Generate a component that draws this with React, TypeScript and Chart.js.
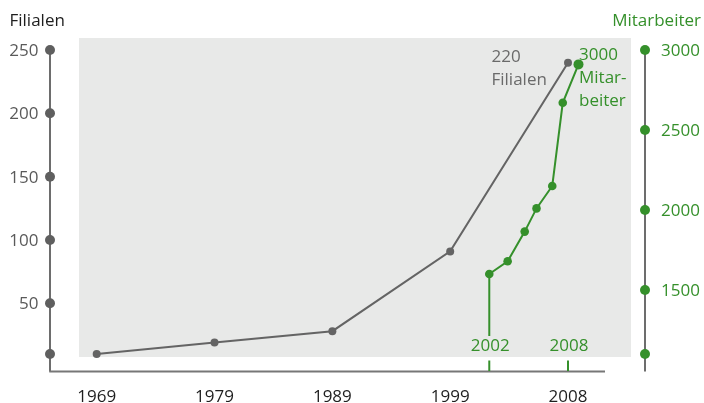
import React, { useEffect, useRef } from "react";
import { Chart, registerables } from "chart.js";

Chart.register(...registerables);

const categories = ["1969", "1979", "1989", "1999", "2008"];
const filialen = [10, 19, 28, 91, 240];
const mitarbeiterYears = [2002, 2003.4, 2004.7, 2005.6, 2006.8, 2007.6, 2008.8];
const mitarbeiter = [1600, 1680, 1865, 2010, 2150, 2670, 2910];
const leftTicks = [50, 100, 150, 200, 250];
const rightTicks = [1500, 2000, 2500, 3000];
const markYears = [2002, 2008];

const GREEN = "#35902b";
const GRAY = "#646464";
const FONT = '"Open Sans", "DejaVu Sans", sans-serif';
const FS = 17;

// layout constants (pixels)
const AREA_LEFT = 96.7;
const AREA_RIGHT = 600;
const LAST_CAT_PX = 568;
const PX_PER_YEAR = 13.12;

const deco = {
  id: "deco",
  beforeDatasetsDraw(chart: any) {
    const ctx = chart.ctx;
    ctx.save();
    ctx.fillStyle = "#e8e9e8";
    ctx.fillRect(79, 38, 552, 319);
    const x2 = chart.scales.x2;
    const y2 = chart.scales.y2;
    const px = x2.getPixelForValue(mitarbeiterYears[0]);
    const py = y2.getPixelForValue(mitarbeiter[0]);
    ctx.strokeStyle = GREEN;
    ctx.lineWidth = 2;
    ctx.beginPath();
    ctx.moveTo(px, py);
    ctx.lineTo(px, 336);
    ctx.stroke();
    ctx.restore();
  },
  afterDatasetsDraw(chart: any) {
    const ctx = chart.ctx;
    const x = chart.scales.x;
    const y = chart.scales.y;
    const x2 = chart.scales.x2;
    const y2 = chart.scales.y2;
    const capHalf = (FS * 0.714) / 2;
    ctx.save();
    ctx.font = `${FS}px ${FONT}`;

    const leftX = 50;
    const rightX = 645;
    const axisY = 371.5;
    ctx.strokeStyle = "#3c3c3c";
    ctx.lineWidth = 1.5;
    ctx.beginPath();
    ctx.moveTo(leftX, y.getPixelForValue(y.max));
    ctx.lineTo(leftX, axisY);
    ctx.stroke();
    ctx.beginPath();
    ctx.moveTo(rightX, y2.getPixelForValue(y2.max));
    ctx.lineTo(rightX, axisY);
    ctx.stroke();
    ctx.strokeStyle = "#777777";
    ctx.lineWidth = 2;
    ctx.beginPath();
    ctx.moveTo(leftX - 0.75, axisY);
    ctx.lineTo(605, axisY);
    ctx.stroke();

    ctx.fillStyle = "#5f5f5f";
    [y.min, ...leftTicks].forEach((v) => {
      ctx.beginPath();
      ctx.arc(leftX, y.getPixelForValue(v), 5, 0, Math.PI * 2);
      ctx.fill();
    });
    ctx.fillStyle = "#5a5a5a";
    ctx.textAlign = "right";
    ctx.textBaseline = "alphabetic";
    leftTicks.forEach((v) => {
      ctx.fillText(String(v), 38.5, y.getPixelForValue(v) + capHalf);
    });

    ctx.fillStyle = GREEN;
    [y2.min, ...rightTicks].forEach((v) => {
      ctx.beginPath();
      ctx.arc(rightX, y2.getPixelForValue(v), 5, 0, Math.PI * 2);
      ctx.fill();
    });
    ctx.textAlign = "left";
    rightTicks.forEach((v) => {
      ctx.fillText(String(v), 661, y2.getPixelForValue(v) + capHalf);
    });

    ctx.fillStyle = "#1e1e1e";
    ctx.textAlign = "left";
    ctx.fillText("Filialen", 9.5, 26);
    ctx.fillStyle = GREEN;
    ctx.textAlign = "right";
    ctx.fillText("Mitarbeiter", 701, 26);

    ctx.fillStyle = "#1e1e1e";
    ctx.textAlign = "center";
    categories.forEach((c, i) => {
      ctx.fillText(c, x.getPixelForValue(i), 401.5);
    });

    ctx.strokeStyle = GREEN;
    ctx.lineWidth = 2;
    ctx.fillStyle = GREEN;
    markYears.forEach((yr) => {
      const px = x2.getPixelForValue(yr);
      ctx.beginPath();
      ctx.moveTo(px, 360.5);
      ctx.lineTo(px, 371);
      ctx.stroke();
      ctx.fillText(String(yr), px + 1, 351);
    });

    ctx.textAlign = "left";
    ctx.fillStyle = "#6a6a6a";
    ctx.fillText("220", 491.5, 62);
    ctx.fillText("Filialen", 491.5, 85);
    ctx.fillStyle = GREEN;
    ctx.fillText("3000", 579, 60);
    ctx.fillText("Mitar-", 579, 83);
    ctx.fillText("beiter", 579, 105.5);
    ctx.restore();
  },
};

export default function App() {
  const ref = useRef<HTMLCanvasElement>(null);
  useEffect(() => {
    if (!ref.current) return;
    const lastIdx = categories.length - 1;
    const xMax = (lastIdx * (AREA_RIGHT - AREA_LEFT)) / (LAST_CAT_PX - AREA_LEFT);
    const chart = new Chart(ref.current, {
      type: "line",
      data: {
        datasets: [
          {
            label: "Filialen",
            data: filialen.map((v, i) => ({ x: i, y: v })) as any,
            xAxisID: "x",
            yAxisID: "y",
            borderColor: GRAY,
            backgroundColor: GRAY,
            borderWidth: 2,
            pointRadius: 4,
            pointBorderWidth: 0,
            tension: 0,
            clip: false as any,
          },
          {
            label: "Mitarbeiter",
            data: mitarbeiterYears.map((yr, i) => ({ x: yr, y: mitarbeiter[i] })) as any,
            xAxisID: "x2",
            yAxisID: "y2",
            borderColor: GREEN,
            backgroundColor: GREEN,
            borderWidth: 2,
            pointRadius: [4.3, 4.3, 4.3, 4.3, 4.3, 4.3, 5] as any,
            pointBorderWidth: 0,
            tension: 0,
            clip: false as any,
          },
        ],
      },
      options: {
        animation: false,
        responsive: false,
        events: [],
        layout: { padding: { left: AREA_LEFT, right: 704 - AREA_RIGHT, top: 50, bottom: 49 } },
        plugins: { legend: { display: false }, tooltip: { enabled: false } },
        scales: {
          x: { type: "linear", display: false, min: 0, max: xMax },
          x2: {
            type: "linear",
            display: false,
            min: 2008 - (LAST_CAT_PX - AREA_LEFT) / PX_PER_YEAR,
            max: 2008 + (AREA_RIGHT - LAST_CAT_PX) / PX_PER_YEAR,
          },
          y: { type: "linear", display: false, min: 10, max: 250 },
          y2: { type: "linear", display: false, min: 1100, max: 3000 },
        },
      },
      plugins: [deco],
    });
    return () => chart.destroy();
  }, []);
  return (
    <div style={{ position: "fixed", left: 0, top: 0, width: 704, height: 403, background: "#fff" }}>
      <canvas ref={ref} width={704} height={403} style={{ display: "block" }} />
    </div>
  );
}
